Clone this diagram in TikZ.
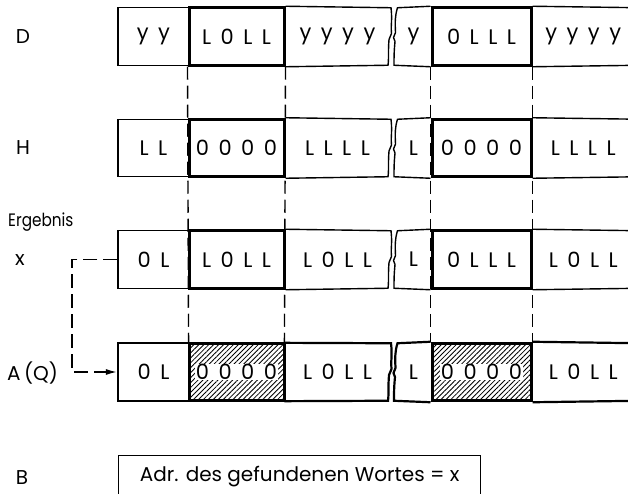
\documentclass[tikz,border=0pt]{standalone}
\usepackage{fontspec}
\setmainfont{Poppins}
\usetikzlibrary{patterns.meta,arrows.meta}
\newcommand\lsp{\hspace{9.5pt}}
\newcommand\wbox[1]{{\setlength{\fboxsep}{0.6pt}\colorbox{white}{#1}}}
\newcommand\cellrow[9]{%
  \pgfmathsetmacro\tp{#2-28.75}%
  \pgfmathsetmacro\bt{#2+28.75}%
  \node[#9, minimum width=95pt] (#1b) at (236.5,#2) {#4};
  \node[#9, minimum width=99pt] (#1e) at (481.5,#2) {#7};
  \node[cell, rowlw, minimum width=71pt] (#1a) at (153.5,#2) {#3};
  \node[txt, minimum width=107pt] (#1c) at (337.5,#2) {#5};
  \node[txt, minimum width=37pt] (#1d) at (413.5,#2) {#6};
  \node[txt, minimum width=104pt, anchor=west] (#1f) at (531,#2) {#8};
  \draw[rowlw] (#1b.north east) -- (391,\tp) .. controls (392.5,\tp+12) and (390.5,\tp+20) .. (391.5,#2-3) -- (389,#2+3) .. controls (388,#2+15) and (389,\bt-8) .. (388,\bt) -- (#1b.south east);
  \draw[rowlw] (#1e.north west) -- (397.5,\tp) .. controls (395,\tp+8) and (395,\tp+14) .. (395.5,#2-4) -- (393.5,#2+1) -- (395,#2+5) .. controls (394,#2+15) and (394,\bt-8) .. (394,\bt) -- (#1e.south west);
  \draw[rowlw] (#1e.north east) -- (640,\tp);
  \draw[rowlw] (#1e.south east) -- (640,\bt);
}
\begin{document}
\begin{tikzpicture}[x=1pt,y=-1pt,
  cellfont/.style={font=\fontsize{21}{24}\selectfont},
  lbl/.style={font=\fontsize{20}{23}\selectfont, inner sep=0pt},
  cell/.style={draw, minimum height=57.5pt, inner sep=0pt, cellfont},
  txt/.style={minimum height=57.5pt, inner sep=0pt, cellfont},
  rowlw/.style={line width=1.4pt},
  thickcell/.style={cell, line width=3pt},
  hatchcell/.style={cell, line width=3pt, pattern={Lines[angle=45,distance=3.5pt,line width=0.85pt]}},
  vdash/.style={line width=1.4pt, dash pattern=on 13pt off 6pt},
  cdash/.style={line width=1.4pt, dash pattern=on 14pt off 6pt},
]
\clip (0,0) rectangle (628,494);
\fill[white] (0,0) rectangle (628,494);

% row labels
\node[lbl] (lD) at (23,37) {D};
\node[lbl] (lH) at (23,148) {H};
\node[lbl, anchor=west] (lErg) at (8,222) {\fontsize{18}{21}\selectfont\scalebox{0.85}[1]{Ergebnis}};
\node[lbl] (lx) at (20,260) {x};
\node[lbl, anchor=west] (lA) at (7,373) {A\,(Q)};
\node[lbl] (lB) at (22,478) {B};

% rows
\cellrow{D}{36.5}{y\lsp y}{L\lsp 0\lsp L\lsp L}{y\lsp y\lsp y\lsp y}{y}{0\lsp L\lsp L\lsp L}{y\lsp y\lsp y\lsp y}{thickcell}
\cellrow{H}{148}{L\lsp L}{0\lsp 0\lsp 0\lsp 0}{L\lsp L\lsp L\lsp L}{L}{0\lsp 0\lsp 0\lsp 0}{L\lsp L\lsp L\lsp L}{thickcell}
\cellrow{X}{259.5}{0\lsp L}{L\lsp 0\lsp L\lsp L}{L\lsp 0\lsp L\lsp L}{L}{0\lsp L\lsp L\lsp L}{L\lsp 0\lsp L\lsp L}{thickcell}
\tikzset{rowlw/.style={line width=2.2pt}}
\cellrow{A}{372}{0\lsp L}{\wbox{0\lsp 0\lsp 0\lsp 0}}{L\lsp 0\lsp L\lsp L}{L}{\wbox{0\lsp 0\lsp 0\lsp 0}}{L\lsp 0\lsp L\lsp L}{hatchcell}

% dashed alignment lines
\draw[vdash] (Db.south west) -- (Ab.north west);
\draw[vdash] (Db.south east) -- (Ab.north east);
\draw[vdash] (De.south west) -- (Ae.north west);
\draw[vdash] (De.south east) -- (Ae.north east);

% result transfer connector
\coordinate (k1) at (72,259.5);
\coordinate (k2) at (72,372);
\draw[cdash, -{Latex[length=11pt,width=6pt]}] (Xa.west) -- (k1) -- (k2) -- (Aa.west);

% B box
\node[draw, line width=1.4pt, minimum width=362pt, minimum height=42pt, inner sep=0pt, anchor=north west, font=\fontsize{20}{23}\selectfont] (bbox) at (118,455) {Adr. des gefundenen Wortes = x};
\end{tikzpicture}
\end{document}
